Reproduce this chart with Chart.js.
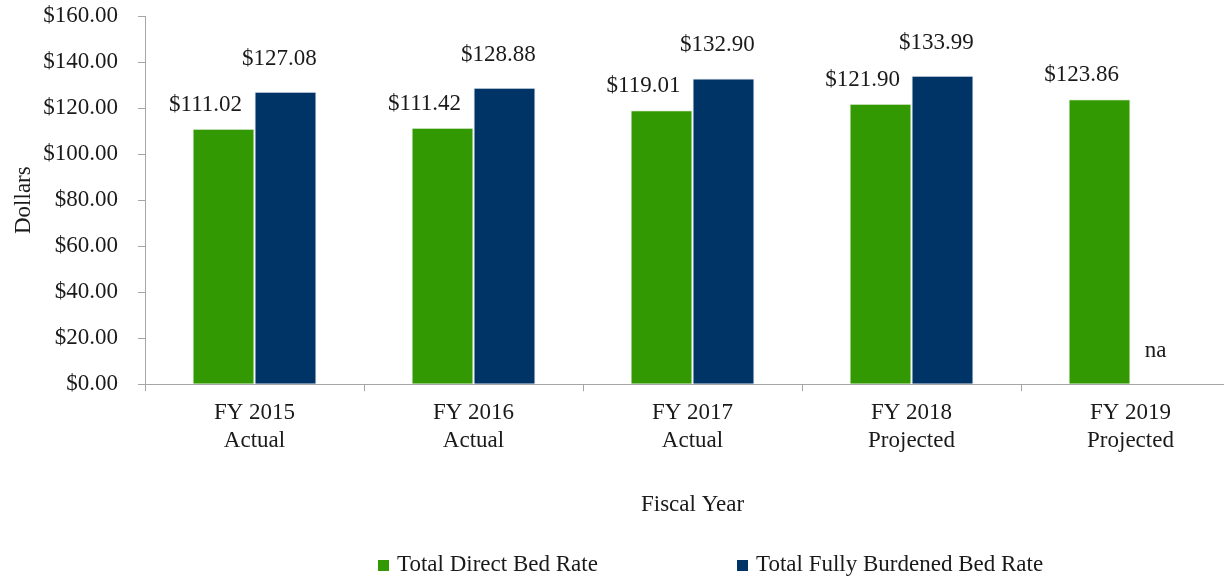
<!DOCTYPE html>
<html>
<head>
<meta charset="utf-8">
<title>Bed Rate by Fiscal Year</title>
<script src="https://cdn.jsdelivr.net/npm/chart.js@4/dist/chart.umd.min.js"></script>
<style>
    html, body { margin: 0; padding: 0; background: #ffffff; overflow: hidden; }
    #wrap { position: relative; width: 1224px; height: 578px; overflow: hidden; }
    #bedChart { position: absolute; left: 0; top: 0; }
    .legend-item {
        position: absolute;
        top: 550px;
        font-family: "Liberation Serif", "Times New Roman", serif;
        font-size: 23px;
        color: #1a1a1a;
        white-space: nowrap;
        line-height: 28px;
    }
    .legend-item span.box {
        display: inline-block;
        width: 11px;
        height: 11px;
        margin-right: 8px;
        vertical-align: 0px;
    }
</style>
</head>
<body>
<div id="wrap">
    <canvas id="bedChart" width="1240" height="578"></canvas>
    <div id="legend"></div>
</div>
<script>
// categories (two-line labels)
const fiscalYears = [
    ["FY 2015", "Actual"],
    ["FY 2016", "Actual"],
    ["FY 2017", "Actual"],
    ["FY 2018", "Projected"],
    ["FY 2019", "Projected"]
];
const directBedRate = [111.02, 111.42, 119.01, 121.90, 123.86];
const fullyBurdenedBedRate = [127.08, 128.88, 132.90, 133.99, null];
const yTickValues = [0, 20, 40, 60, 80, 100, 120, 140, 160];

const GREEN = "#339903";
const NAVY = "#003366";
const AXIS_GREY = "#a6a6a6";
const FONT = "'Liberation Serif', 'Times New Roman', serif";

// value labels above each bar ("na" where there is no value)
const barLabels = {
    id: "barLabels",
    afterDatasetsDraw(chart) {
        const ctx = chart.ctx;
        const yScale = chart.scales.y;
        ctx.save();
        ctx.font = "23px " + FONT;
        ctx.fillStyle = "#1a1a1a";
        ctx.textAlign = "center";
        ctx.textBaseline = "middle";
        chart.data.datasets.forEach((ds, i) => {
            const meta = chart.getDatasetMeta(i);
            meta.data.forEach((bar, j) => {
                const v = ds.data[j];
                const top = v == null ? yScale.getPixelForValue(0) : bar.y;
                const text = v == null ? "na" : "$" + v.toFixed(2);
                ctx.fillText(text, bar.x + ds.labelDx, top - ds.labelDy);
            });
        });
        ctx.restore();
    }
};

const ctx = document.getElementById("bedChart").getContext("2d");
const chart = new Chart(ctx, {
    type: "bar",
    data: {
        labels: fiscalYears,
        datasets: [
            {
                label: "Total Direct Bed Rate",
                data: directBedRate,
                backgroundColor: GREEN,
                borderColor: "#e8f0e0",
                borderWidth: 1,
                labelDx: -18,
                labelDy: 24
            },
            {
                label: "Total Fully Burdened Bed Rate",
                data: fullyBurdenedBedRate,
                backgroundColor: NAVY,
                borderColor: "#dde4ee",
                borderWidth: 1,
                labelDx: -6,
                labelDy: 33
            }
        ]
    },
    options: {
        responsive: false,
        animation: false,
        layout: { padding: { top: 0, right: 0, bottom: 43, left: 0 } },
        datasets: {
            bar: { barPercentage: 1.0, categoryPercentage: 0.566 }
        },
        plugins: {
            legend: { display: false },
            tooltip: { enabled: false }
        },
        scales: {
            x: {
                grid: {
                    display: true,
                    drawOnChartArea: false,
                    drawTicks: true,
                    tickLength: 7,
                    color: AXIS_GREY
                },
                border: { display: true, color: AXIS_GREY, width: 1 },
                ticks: {
                    color: "#1a1a1a",
                    padding: 8,
                    font: { family: FONT, size: 23, lineHeight: 1.22 }
                },
                title: {
                    display: true,
                    text: "Fiscal Year",
                    color: "#1a1a1a",
                    font: { family: FONT, size: 23, lineHeight: 1.2 },
                    padding: { top: 28, bottom: 16 }
                }
            },
            y: {
                min: 0,
                max: 160,
                afterBuildTicks(scale) {
                    scale.ticks = yTickValues.map(v => ({ value: v }));
                },
                afterFit(scale) {
                    scale.width = 145;
                    // the tick padding would otherwise push the plot top down
                    scale.paddingTop = 16;
                },
                grid: {
                    display: true,
                    drawOnChartArea: false,
                    drawTicks: true,
                    tickLength: 7,
                    color: AXIS_GREY
                },
                border: { display: true, color: AXIS_GREY, width: 1 },
                ticks: {
                    color: "#1a1a1a",
                    padding: 20,
                    font: { family: FONT, size: 23 },
                    callback: v => "$" + Number(v).toFixed(2)
                },
                title: {
                    display: true,
                    text: "Dollars",
                    color: "#1a1a1a",
                    font: { family: FONT, size: 23, lineHeight: 1.2 },
                    padding: { top: 10, bottom: 0 }
                }
            }
        }
    },
    plugins: [barLabels]
});

// legend below the chart, built from the datasets
const legendPos = [378, 737];
const legendEl = document.getElementById("legend");
chart.data.datasets.forEach((ds, i) => {
    const item = document.createElement("div");
    item.className = "legend-item";
    item.style.left = legendPos[i] + "px";
    const box = document.createElement("span");
    box.className = "box";
    box.style.background = ds.backgroundColor;
    item.appendChild(box);
    item.appendChild(document.createTextNode(ds.label));
    legendEl.appendChild(item);
});
</script>
</body>
</html>
